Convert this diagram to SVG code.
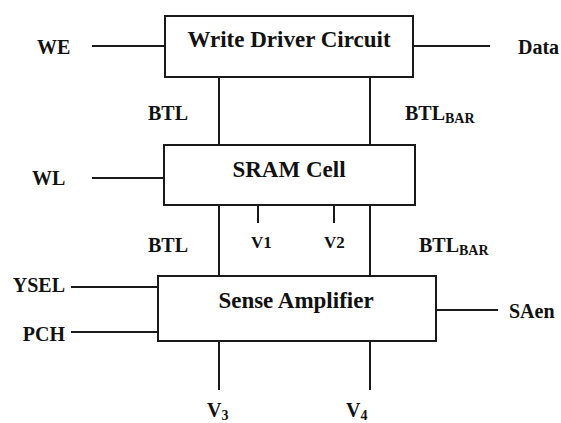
<svg xmlns="http://www.w3.org/2000/svg" width="561" height="423" viewBox="0 0 561 423">
<style>
.box{fill:#fff;stroke:#1a1a1a;stroke-width:2}
.wire{stroke:#1a1a1a;stroke-width:2;fill:none}
.t{font-family:'Liberation Serif','Times New Roman','DejaVu Serif',serif;font-weight:bold;fill:#111}
.title{font-size:23px;text-anchor:middle}
.lbl{font-size:20px}
.sm{font-size:17px}
.sub{font-size:14px}
</style>
<rect width="561" height="423" fill="#fff"/>
<g id="connectors">
<path class="wire" d="M92 46H165M413 46H490"/>
<path class="wire" d="M219 77V145M370 77V145"/>
<path class="wire" d="M92 178H164"/>
<path class="wire" d="M219 205V276M370 205V276"/>
<path class="wire" d="M258 205V223M334 205V223"/>
<path class="wire" d="M71 287H158M71 332H158"/>
<path class="wire" d="M436 310H498"/>
<path class="wire" d="M219 341V390M370 341V390"/>
</g>
<g id="write-driver">
<rect class="box" x="165" y="16" width="248" height="61"/>
<text class="t title" font-family="Liberation Serif, serif" x="289" y="47">Write Driver Circuit</text>
</g>
<g id="sram-cell">
<rect class="box" x="164" y="145" width="251" height="60"/>
<text class="t title" font-family="Liberation Serif, serif" x="289" y="177">SRAM Cell</text>
</g>
<g id="sense-amplifier">
<rect class="box" x="158" y="276" width="278" height="65"/>
<text class="t title" font-family="Liberation Serif, serif" x="296" y="308">Sense Amplifier</text>
</g>
<g id="labels" font-family="Liberation Serif, serif">
<text class="t lbl" x="37" y="54">WE</text>
<text class="t lbl" x="518" y="54">Data</text>
<text class="t lbl" x="148" y="120">BTL</text>
<text class="t lbl" x="405" y="120">BTL<tspan class="sub" dy="3">BAR</tspan></text>
<text class="t lbl" x="32" y="185">WL</text>
<text class="t lbl" x="148" y="252">BTL</text>
<text class="t sm" x="251" y="248">V1</text>
<text class="t sm" x="324" y="248">V2</text>
<text class="t lbl" x="419" y="252">BTL<tspan class="sub" dy="3">BAR</tspan></text>
<text class="t lbl" x="65" y="292" text-anchor="end">YSEL</text>
<text class="t lbl" x="65" y="341" text-anchor="end">PCH</text>
<text class="t lbl" x="509" y="318">SAen</text>
<text class="t lbl" x="207" y="417">V<tspan class="sub" dy="3">3</tspan></text>
<text class="t lbl" x="346" y="417">V<tspan class="sub" dy="3">4</tspan></text>
</g>
</svg>
